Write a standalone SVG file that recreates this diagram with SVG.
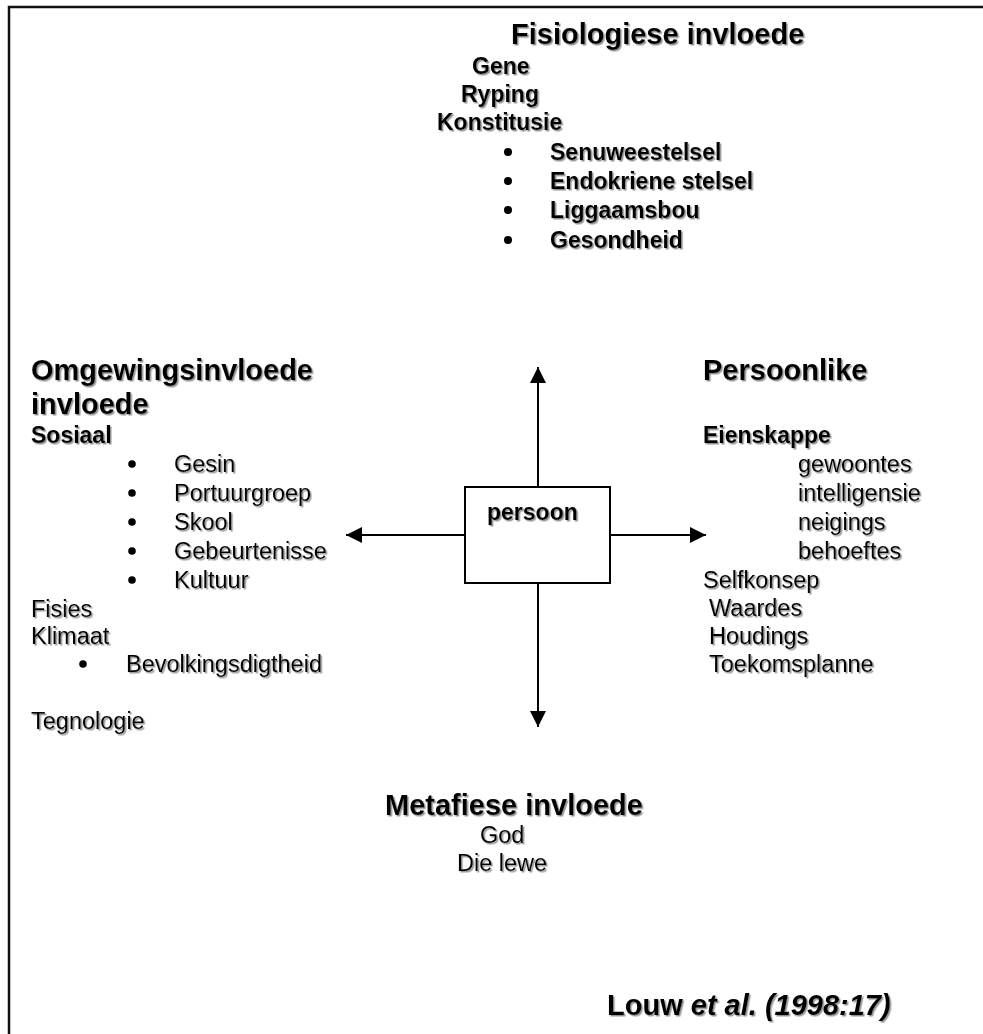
<svg xmlns="http://www.w3.org/2000/svg" width="983" height="1034" viewBox="0 0 983 1034">
<defs>
<filter id="sh" x="-5%" y="-20%" width="110%" height="140%">
<feDropShadow dx="1.5" dy="1.5" stdDeviation="0.7" flood-color="#777" flood-opacity="0.8"/>
</filter>
<marker id="ah" viewBox="0 0 16 16" refX="16" refY="8" markerWidth="16" markerHeight="16" markerUnits="userSpaceOnUse" orient="auto">
<path d="M0,0 L16,8 L0,16 Z" fill="#000"/>
</marker>
<style>
text{font-family:"Liberation Sans",Arial,sans-serif;fill:#000;filter:url(#sh)}
.t{font-size:29px;font-weight:bold}
.b{font-size:23px;font-weight:bold}
.r{font-size:23.5px}
.dot{fill:#000}
.ln{stroke:#000;stroke-width:2;fill:none}
</style>
</defs>
<rect width="983" height="1034" fill="#fff"/>
<path d="M9,1034 V7 H983" fill="none" stroke="#111" stroke-width="2.5"/>

<g id="fisiologies">
<text class="t" x="511" y="44">Fisiologiese invloede</text>
<text class="b" x="472" y="74">Gene</text>
<text class="b" x="461" y="102">Ryping</text>
<text class="b" x="437" y="130">Konstitusie</text>
<circle class="dot" cx="508" cy="152" r="4"/><text class="b" x="550" y="160">Senuweestelsel</text>
<circle class="dot" cx="508" cy="181" r="4"/><text class="b" x="550" y="189">Endokriene stelsel</text>
<circle class="dot" cx="508" cy="210" r="4"/><text class="b" x="550" y="218">Liggaamsbou</text>
<circle class="dot" cx="508" cy="240" r="4"/><text class="b" x="550" y="248">Gesondheid</text>
</g>

<g id="omgewing">
<text class="t" x="31" y="380">Omgewingsinvloede</text>
<text class="t" x="31" y="414">invloede</text>
<text class="b" x="31" y="443">Sosiaal</text>
<circle class="dot" cx="132" cy="464" r="3.8"/><text class="r" x="174" y="472">Gesin</text>
<circle class="dot" cx="132" cy="493" r="3.8"/><text class="r" x="174" y="501">Portuurgroep</text>
<circle class="dot" cx="132" cy="522" r="3.8"/><text class="r" x="174" y="530">Skool</text>
<circle class="dot" cx="132" cy="551" r="3.8"/><text class="r" x="174" y="559">Gebeurtenisse</text>
<circle class="dot" cx="132" cy="580" r="3.8"/><text class="r" x="174" y="588">Kultuur</text>
<text class="r" x="31" y="617">Fisies</text>
<text class="r" x="31" y="644">Klimaat</text>
<circle class="dot" cx="83" cy="664" r="3.8"/><text class="r" x="126" y="672">Bevolkingsdigtheid</text>
<text class="r" x="31" y="729">Tegnologie</text>
</g>

<g id="persoonlike">
<text class="t" x="703" y="380">Persoonlike</text>
<text class="b" x="703" y="443">Eienskappe</text>
<text class="r" x="798" y="472">gewoontes</text>
<text class="r" x="798" y="501">intelligensie</text>
<text class="r" x="798" y="530">neigings</text>
<text class="r" x="798" y="559">behoeftes</text>
<text class="r" x="703" y="588">Selfkonsep</text>
<text class="r" x="709" y="616">Waardes</text>
<text class="r" x="709" y="644">Houdings</text>
<text class="r" x="709" y="672">Toekomsplanne</text>
</g>

<g id="persoon">
<rect class="ln" x="465" y="487" width="145" height="96"/>
<text class="b" x="487" y="520">persoon</text>
</g>

<g id="metafies">
<text class="t" x="385" y="815">Metafiese invloede</text>
<text class="r" x="480" y="843">God</text>
<text class="r" x="457" y="871">Die lewe</text>
</g>

<g id="bron">
<text x="607" y="1015" style="font-size:29px;font-weight:bold">Louw <tspan font-style="italic">et al. (1998:17)</tspan></text>
</g>

<g id="connectors">
<line class="ln" x1="538" y1="487" x2="538" y2="367" marker-end="url(#ah)"/>
<line class="ln" x1="538" y1="583" x2="538" y2="727" marker-end="url(#ah)"/>
<line class="ln" x1="465" y1="535" x2="346" y2="535" marker-end="url(#ah)"/>
<line class="ln" x1="610" y1="535" x2="706" y2="535" marker-end="url(#ah)"/>
</g>
</svg>
